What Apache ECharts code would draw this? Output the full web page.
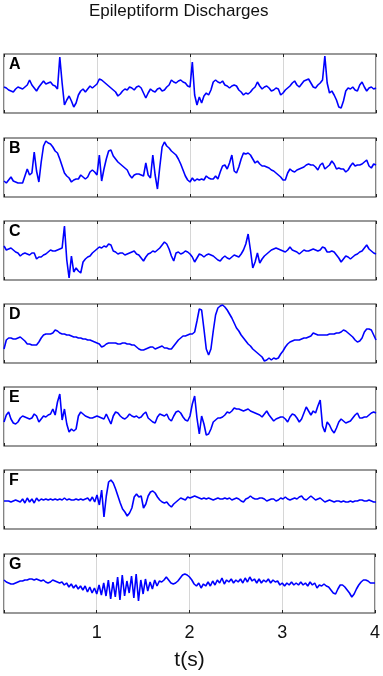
<!DOCTYPE html>
<html>
<head>
<meta charset="utf-8">
<title>Epileptiform Discharges</title>
<script src="https://cdn.jsdelivr.net/npm/echarts@6/dist/echarts.min.js"></script>
<style>
  html, body { margin: 0; padding: 0; background: #fff; }
  #chart { width: 383px; height: 676px; }
</style>
</head>
<body>
<div id="chart"></div>
<script>
// sample step in seconds, every trace starts at t = 0
const STEP = 0.025;
const xTicks = [1, 2, 3, 4];
const panelLabels = ['A', 'B', 'C', 'D', 'E', 'F', 'G'];

// trace amplitudes (arbitrary units, 0 = bottom of box, 59 = top)
const traceA = [
  26,25,23,22,21,24,26,25,24,26, 28,33,28,25,22,26,29,32,29,30,
  31,28,27,24,56,30,8,13,17,12, 6,10,18,22,24,21,24,27,25,27,
  29,34,33,31,29,27,25,23,21,17, 19,22,24,23,26,25,23,26,27,25,
  20,15,20,24,22,21,24,25,22,23, 26,28,33,31,30,32,33,31,30,27,
  26,51,18,8,16,10,17,20,18,23, 31,33,31,30,32,28,27,25,27,28,
  27,23,21,18,20,19,21,24,26,31, 27,24,26,27,25,22,23,25,24,18,
  20,23,25,27,30,32,28,26,29,32, 33,34,30,26,25,28,30,33,57,30,
  20,22,18,13,6,5,12,22,25,24, 26,23,22,28,31,26,22,25,26,24,25
];
const traceB = [
  16,14,17,20,16,15,14,14,14,21, 28,22,24,45,26,15,35,51,56,54,
  53,50,46,44,38,31,24,21,19,15, 17,18,18,22,20,18,20,25,27,25,
  22,42,16,28,38,46,47,41,38,35, 33,31,29,27,22,19,22,23,23,22,
  21,34,22,19,42,22,8,30,50,55, 51,49,46,44,42,38,33,27,21,17,
  15,19,16,18,17,18,17,21,19,18, 18,21,18,25,31,32,28,34,42,26,
  24,30,38,44,43,44,42,38,34,36, 33,31,31,30,29,27,26,24,22,20,
  17,17,24,28,26,25,27,28,29,30, 32,33,32,32,30,27,32,34,28,30,
  32,36,33,28,29,28,28,25,27,31, 34,31,32,32,33,35,37,31,29,33,32
];
const traceC = [
  34,30,31,32,30,28,27,24,26,27, 26,25,27,27,21,23,23,25,26,28,
  30,29,29,30,31,32,54,20,2,24, 8,12,9,7,18,21,23,24,27,29,
  31,33,32,34,33,36,35,29,28,26, 27,27,25,26,27,28,29,26,25,22,
  19,23,26,27,29,28,30,32,35,38, 36,31,24,19,27,28,26,27,29,28,
  26,23,18,22,26,25,23,25,26,25, 24,22,20,19,22,24,22,21,23,25,
  24,23,26,30,36,46,30,12,18,27, 17,21,24,26,28,30,31,32,31,30,
  29,28,30,33,30,29,28,26,28,30, 29,29,30,31,30,29,30,33,32,28,
  28,29,28,25,22,18,21,24,23,21, 23,25,26,28,29,32,35,31,29,27,26
];
const traceD = [
  14,23,25,25,24,24,25,26,24,22, 19,19,18,18,18,21,25,28,29,29,
  29,30,33,32,30,29,29,28,28,27, 26,26,25,25,24,24,23,23,22,21,
  20,19,16,17,19,20,20,20,20,19, 19,20,20,19,19,18,18,16,14,13,
  13,14,15,16,16,14,15,16,17,15, 15,14,14,17,20,23,25,27,27,28,
  29,29,31,42,54,53,34,14,8,14, 32,48,55,57,58,56,53,49,45,40,
  35,32,28,25,22,19,17,14,12,10, 8,6,2,3,5,3,5,4,5,9,
  12,16,19,21,22,23,23,23,24,25, 25,26,27,30,29,28,28,28,28,28,
  29,29,29,30,30,31,33,32,30,28, 26,23,21,22,25,31,34,34,33,28,23
];
const traceE = [
  24,31,34,27,23,22,24,28,30,29, 28,27,28,32,30,24,27,30,29,31,
  32,37,31,44,52,26,37,22,14,17, 15,17,30,34,32,30,29,28,28,29,
  30,29,28,27,32,27,22,30,34,33, 30,28,27,29,32,30,29,30,28,29,
  32,34,28,26,24,23,29,32,31,30, 32,27,25,30,34,35,33,29,26,25,
  30,42,50,28,12,30,22,11,12,17, 24,26,28,28,29,31,34,33,35,38,
  37,37,36,35,36,37,35,34,33,32, 31,29,32,35,31,28,25,27,28,29,
  29,27,24,29,32,31,28,24,27,33, 39,35,31,35,33,40,46,20,14,24,
  21,16,13,18,24,27,25,23,24,25, 28,31,33,28,28,29,29,31,33,34,33
];
const traceF = [
  28,28,28,27,28,29,28,27,30,26, 31,27,30,26,31,28,30,29,30,29,
  30,29,30,29,30,29,31,29,30,29, 29,30,29,30,29,30,31,28,32,27,
  34,24,39,12,33,47,49,46,40,33, 26,20,17,13,16,21,32,35,32,33,
  21,25,33,37,38,36,32,29,27,26, 27,24,22,25,27,29,31,30,29,32,
  31,32,33,32,31,30,31,30,31,30, 29,30,31,30,30,31,30,31,29,30,
  31,30,28,27,30,31,33,31,30,30, 31,31,30,28,29,30,30,28,29,31,
  30,32,30,29,30,31,30,32,33,30, 29,31,33,31,29,30,31,29,27,28,
  29,28,27,28,28,27,28,27,27,28, 27,28,28,29,29,28,28,29,28,27,27
];
const traceG = [
  33,31,30,29,29,30,31,32,32,33, 33,34,34,33,34,33,32,33,31,30,
  31,33,32,31,30,31,28,30,26,29, 25,28,24,27,23,27,21,26,20,25,
  19,28,18,30,17,33,14,31,16,36, 13,38,17,32,20,37,15,39,12,33,
  19,34,22,31,24,33,27,32,31,33, 36,33,30,29,30,32,35,38,39,38,
  36,33,29,27,30,25,29,27,31,27, 32,28,33,30,35,29,33,31,34,30,
  33,31,34,30,35,31,36,32,34,30, 34,30,33,31,34,30,33,31,32,28,
  30,27,30,28,31,28,30,28,31,28, 30,27,31,28,30,25,28,27,29,27,
  26,23,20,19,24,28,28,26,23,20, 16,19,24,28,31,33,33,32,30,30,30
];

const traces = [traceA, traceB, traceC, traceD, traceE, traceF, traceG];

// layout
const panelTops = [54, 138, 221, 304, 387, 470, 554];
const panelHeight = 59;
const lastPanel = traces.length - 1;
const fontFamily = 'Liberation Sans, Arial, sans-serif';

const chart = echarts.init(document.getElementById('chart'), null, { renderer: 'canvas' });

const grids = [];
const xAxes = [];
const yAxes = [];
const series = [];
const titles = [{
  text: 'Epileptiform Discharges',
  left: 89,
  top: 3,
  padding: 0,
  textStyle: { fontFamily: fontFamily, fontSize: 17, fontWeight: 'normal', color: '#111' }
}];

traces.forEach((trace, k) => {
  grids.push({
    left: 4,
    width: 372,
    top: panelTops[k],
    height: panelHeight,
    show: true,
    borderColor: '#333',
    borderWidth: 1.2,
    backgroundColor: '#fff'
  });
  // bottom axis (labels only on the last panel)
  xAxes.push({
    gridIndex: k,
    type: 'value',
    min: 0,
    max: 4,
    interval: 1,
    position: 'bottom',
    axisLine: { show: false },
    axisTick: { show: true, inside: true, length: 3, lineStyle: { color: '#222' } },
    splitLine: { show: true, lineStyle: { color: '#d6d6d6', width: 1 } },
    axisLabel: {
      show: k === lastPanel,
      margin: 11,
      fontFamily: fontFamily,
      fontSize: 18,
      color: '#111',
      formatter: v => (xTicks.indexOf(v) >= 0 ? String(v) : '')
    },
    name: k === lastPanel ? 't(s)' : '',
    nameLocation: 'middle',
    nameGap: 37,
    nameTextStyle: { fontFamily: fontFamily, fontSize: 21, color: '#111' }
  });
  // top axis, only for the inward ticks
  xAxes.push({
    gridIndex: k,
    type: 'value',
    min: 0,
    max: 4,
    interval: 1,
    position: 'top',
    axisLine: { show: false },
    axisTick: { show: true, inside: true, length: 3, lineStyle: { color: '#222' } },
    splitLine: { show: false },
    axisLabel: { show: false }
  });
  yAxes.push({ gridIndex: k, type: 'value', min: 0, max: 59, show: false });
  series.push({
    type: 'line',
    xAxisIndex: 2 * k,
    yAxisIndex: k,
    data: trace.map((v, i) => [i * STEP, v]),
    showSymbol: false,
    lineStyle: { color: '#0000ff', width: 1.6 },
    silent: true
  });
  titles.push({
    text: panelLabels[k],
    left: 9,
    top: panelTops[k] + 3,
    padding: 0,
    textStyle: { fontFamily: fontFamily, fontSize: 16, fontWeight: 'bold', color: '#000' }
  });
});

chart.setOption({
  animation: false,
  backgroundColor: '#fff',
  title: titles,
  grid: grids,
  xAxis: xAxes,
  yAxis: yAxes,
  series: series
});

window.addEventListener('resize', () => chart.resize());
</script>
</body>
</html>
